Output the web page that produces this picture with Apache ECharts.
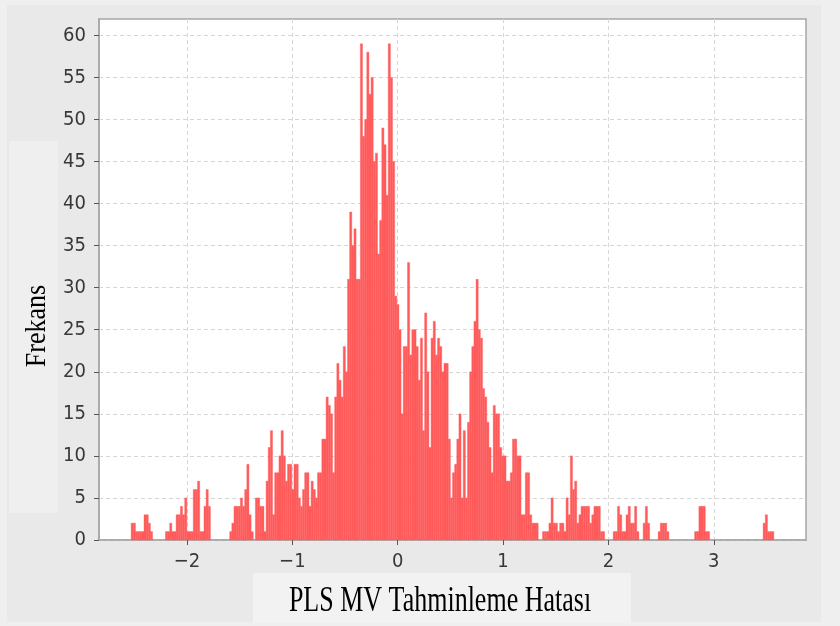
<!DOCTYPE html>
<html>
<head>
<meta charset="utf-8">
<script src="https://cdn.jsdelivr.net/npm/echarts@6/dist/echarts.min.js"></script>
<style>
html,body{margin:0;padding:0;background:#efefef;}
#chart{width:840px;height:626px;}
</style>
</head>
<body>
<div id="chart"></div>
<script>
// Histogram of prediction errors: 300 equal bins
const binStart = -2.53;
const binWidth = 0.020333;
const counts = [
  2,2,1,1,1,1,3,3,2,1, 0,0,0,0,0,0,1,1,2,1,
  1,3,3,4,3,5,1,1,1,6, 6,7,1,1,4,6,4,0,0,0,
  0,0,0,0,0,0,1,2,4,4, 4,5,4,6,9,3,1,0,5,5,
  4,4,1,7,11,13,3,8,8,10, 13,10,7,9,9,6,9,9,5,4,
  6,8,8,4,7,6,5,8,8,12, 12,17,16,15,8,17,21,19,17,23,
  20,31,39,35,37,31,31,59,48,50, 58,53,55,45,46,34,38,49,47,41,
  59,55,45,29,28,25,15,23,23,33, 22,25,25,23,19,24,13,27,20,11,
  24,26,22,24,23,20,21,21,12,5, 8,9,12,15,5,13,5,14,20,23,
  26,31,25,24,18,17,14,11,8,16, 15,15,11,10,10,7,7,8,12,12,
  10,10,3,3,8,8,3,2,2,2, 0,0,1,1,1,2,5,2,2,1,
  2,2,1,5,3,10,6,7,2,3, 4,4,4,4,2,3,4,4,4,1,
  1,0,0,0,0,1,1,4,3,1, 1,3,4,2,2,4,1,0,0,2,
  4,2,0,0,0,0,1,2,2,2, 1,0,0,0,0,0,0,0,0,0,
  0,0,0,1,1,4,4,4,1,1, 0,0,0,0,0,0,0,0,0,0,
  0,0,0,0,0,0,0,0,0,0, 0,0,0,0,0,2,3,1,1,1
];
const xTicks = [-2, -1, 0, 1, 2, 3];
const yTicks = [0, 5, 10, 15, 20, 25, 30, 35, 40, 45, 50, 55, 60];
const xLabel = 'PLS MV Tahminleme Hatası';
const yLabel = 'Frekans';

const data = counts.map((c, i) => [binStart + (i + 0.5) * binWidth, c]);

const chart = echarts.init(document.getElementById('chart'), null, {renderer: 'canvas'});
const tickFont = {fontFamily: '"DejaVu Sans Condensed", "DejaVu Sans"', fontSize: 20, color: '#383838'};
chart.setOption({
  backgroundColor: '#efefef',
  animation: false,
  graphic: [
    {type: 'rect', z: -10, silent: true, shape: {x: 7, y: 5, width: 814, height: 617}, style: {fill: '#e9e9e9'}},
    {type: 'rect', z: -9, silent: true, shape: {x: 9, y: 141, width: 49, height: 372}, style: {fill: '#efefef'}},
    {type: 'rect', z: -9, silent: true, shape: {x: 253, y: 573, width: 378, height: 50}, style: {fill: '#f2f2f2'}},
    {type: 'text', z: 10, silent: true, x: 440, y: 602, scaleY: 1.35,
      style: {text: xLabel, font: '26px "Liberation Serif"', fill: '#000', align: 'center', verticalAlign: 'middle'}},
    {type: 'text', z: 10, silent: true, x: 37, y: 326, rotation: Math.PI / 2, scaleY: 1.15,
      style: {text: yLabel, font: '26px "Liberation Serif"', fill: '#000', align: 'center', verticalAlign: 'middle'}}
  ],
  grid: {left: 99, right: 34, top: 19, bottom: 86, show: true, backgroundColor: '#ffffff', borderColor: '#a6a6a6', borderWidth: 1.5},
  xAxis: {
    type: 'value', min: -2.835, max: 3.875,
    axisLine: {show: true, onZero: false, lineStyle: {color: '#a6a6a6', width: 1.5}},
    axisTick: {show: true, length: 5, customValues: xTicks, lineStyle: {color: '#555'}},
    axisLabel: {customValues: xTicks, margin: 12, ...tickFont, formatter: v => (v < 0 ? '\u2212' + Math.abs(v) : String(v))},
    splitLine: {show: true, lineStyle: {color: '#d6d6d6', type: [4, 3], width: 1}}
  },
  yAxis: {
    type: 'value', min: 0, max: 61.95,
    axisLine: {show: true, onZero: false, lineStyle: {color: '#a6a6a6', width: 1.5}},
    axisTick: {show: true, length: 5, customValues: yTicks, lineStyle: {color: '#555'}},
    axisLabel: {customValues: yTicks, margin: 13, ...tickFont},
    splitLine: {show: true, lineStyle: {color: '#d6d6d6', type: [4, 3], width: 1}}
  },
  series: [{
    type: 'custom',
    data: data,
    encode: {x: 0, y: 1},
    renderItem: function (params, api) {
      const xc = api.value(0);
      const c = api.value(1);
      const p0 = api.coord([xc - binWidth / 2, c]);
      const p1 = api.coord([xc + binWidth / 2, 0]);
      return {
        type: 'rect',
        shape: {x: p0[0], y: p0[1], width: p1[0] - p0[0], height: p1[1] - p0[1]},
        style: {fill: '#ff5b5b', stroke: c > 0 ? '#ff5b5b' : null, lineWidth: 0.4}
      };
    }
  }]
});
</script>
</body>
</html>
